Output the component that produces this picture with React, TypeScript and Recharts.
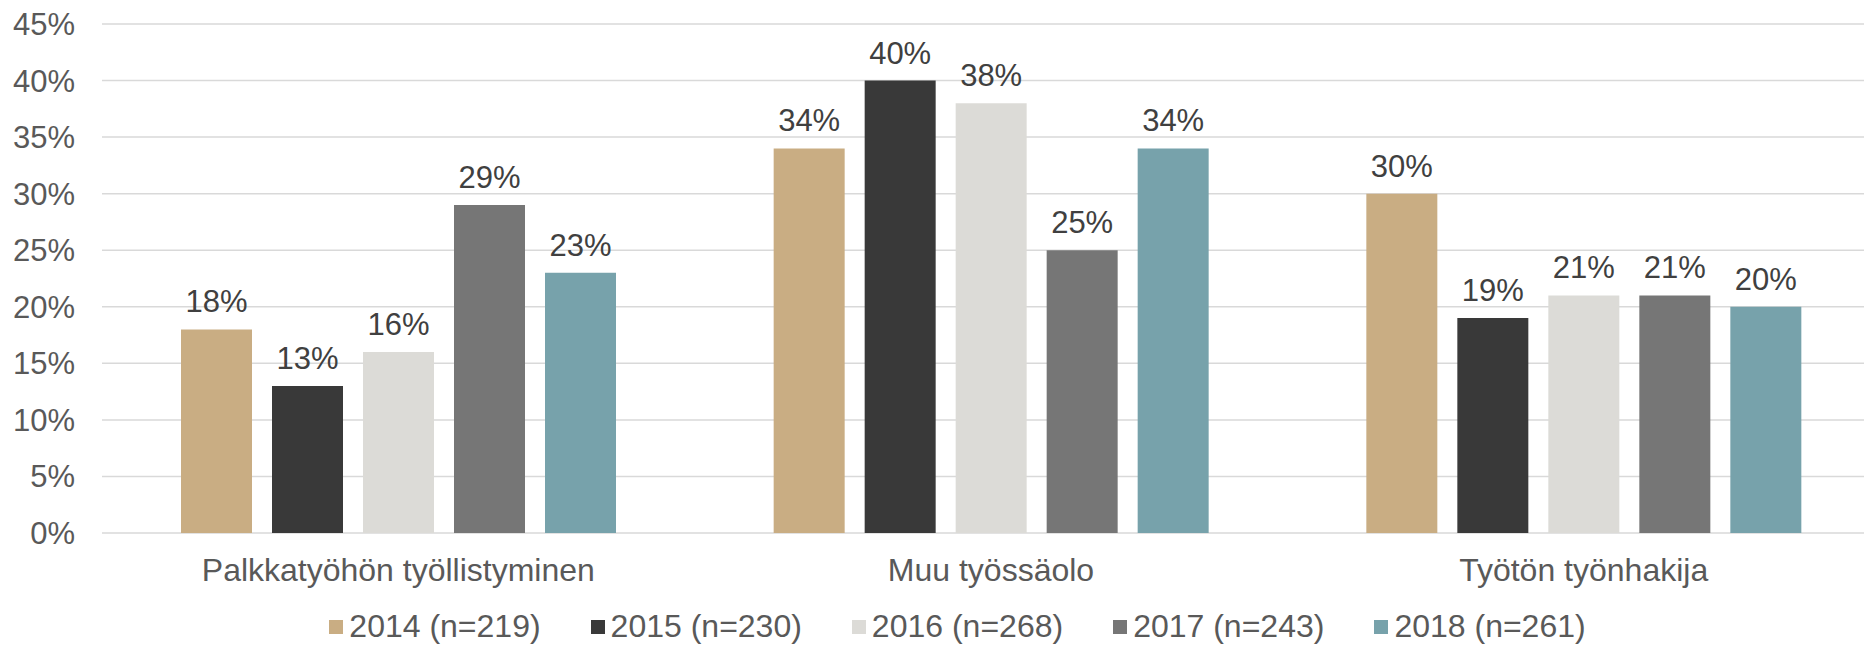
import React from "react";
import {
  BarChart,
  Bar,
  XAxis,
  YAxis,
  CartesianGrid,
  Legend,
  LabelList,
} from "recharts";

// categories on the x axis
const categories = [
  "Palkkatyöhön työllistyminen",
  "Muu työssäolo",
  "Työtön työnhakija",
];

// one series per survey year, values in percent
const seriesNames = [
  "2014 (n=219)",
  "2015 (n=230)",
  "2016 (n=268)",
  "2017 (n=243)",
  "2018 (n=261)",
];
const seriesColors = ["#c9ad83", "#393939", "#dcdbd7", "#767676", "#77a2ab"];

const values2014 = [18, 34, 30];
const values2015 = [13, 40, 19];
const values2016 = [16, 38, 21];
const values2017 = [29, 25, 21];
const values2018 = [23, 34, 20];

const yTicks = [0, 5, 10, 15, 20, 25, 30, 35, 40, 45];

const allValues = [values2014, values2015, values2016, values2017, values2018];
const seriesKeys = ["y2014", "y2015", "y2016", "y2017", "y2018"];

const data = categories.map((name, i) => {
  const row: any = { name };
  seriesKeys.forEach((k, s) => {
    row[k] = allValues[s][i];
  });
  return row;
});

const FONT = "'Liberation Sans', Arial, sans-serif";

const LegendContent = () => (
  <div
    style={{
      display: "flex",
      justifyContent: "center",
      alignItems: "center",
      height: 37,
      paddingLeft: 35,
      gap: 50,
      fontFamily: FONT,
      fontSize: 32,
      color: "#595959",
    }}
  >
    {seriesNames.map((n, i) => (
      <div key={n} style={{ display: "flex", alignItems: "center" }}>
        <span
          style={{
            width: 14,
            height: 14,
            background: seriesColors[i],
            marginRight: 6,
            display: "inline-block",
          }}
        />
        <span style={{ lineHeight: "37px", whiteSpace: "nowrap" }}>{n}</span>
      </div>
    ))}
  </div>
);

export default function App() {
  return (
    <div
      style={{
        position: "fixed",
        left: 0,
        top: 0,
        width: 1864,
        height: 645,
        overflow: "hidden",
        background: "#fff",
      }}
    >
      <BarChart
        width={1900}
        height={645}
        data={data}
        margin={{ top: 24, right: 20, bottom: 0, left: 0 }}
        barGap={20}
      >
        <CartesianGrid
          vertical={false}
          stroke="#d9d9d9"
          strokeWidth={1.5}
        />
        <XAxis
          dataKey="name"
          height={75}
          axisLine={false}
          tickLine={false}
          tickSize={0}
          tickMargin={25}
          tick={{ fill: "#595959", fontSize: 32, fontFamily: FONT }}
        />
        <YAxis
          width={102}
          domain={[0, 45]}
          ticks={yTicks}
          interval={0}
          axisLine={false}
          tickLine={false}
          tickSize={0}
          tickMargin={27}
          tickFormatter={(v) => `${v}%`}
          tick={{ fill: "#595959", fontSize: 31, fontFamily: FONT }}
        />
        <Legend verticalAlign="bottom" content={<LegendContent />} />
        {seriesKeys.map((k, i) => (
          <Bar
            key={k}
            dataKey={k}
            name={seriesNames[i]}
            fill={seriesColors[i]}
            barSize={71}
            isAnimationActive={false}
          >
            <LabelList
              dataKey={k}
              position="top"
              offset={17}
              formatter={(v: any) => `${v}%`}
              style={{ fill: "#404040", fontSize: 31, fontFamily: FONT }}
            />
          </Bar>
        ))}
      </BarChart>
    </div>
  );
}
